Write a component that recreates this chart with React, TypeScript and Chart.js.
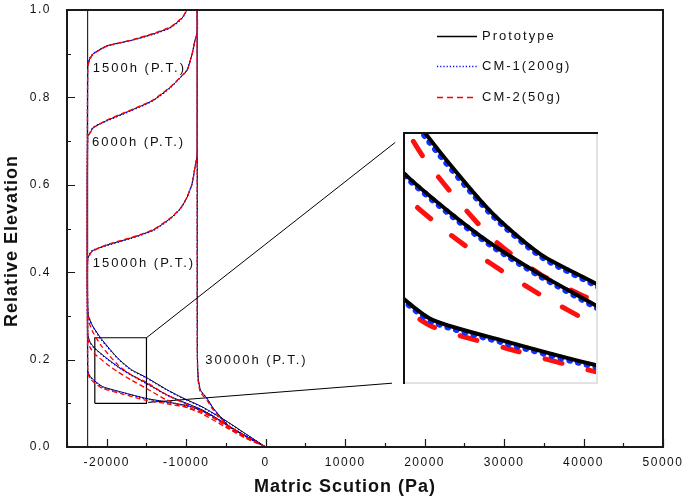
import React, { useEffect, useRef } from 'react';
import { Chart, registerables } from 'chart.js';

Chart.register(...registerables);

// ---------- data ----------
const seriesNames = ['Prototype', 'CM-1(200g)', 'CM-2(50g)'];
const timeLabels = ['1500h (P.T.)', '6000h (P.T.)', '15000h (P.T.)', '30000h (P.T.)'];
const labelSuction = [-21750, -21850, -21750, -7600];
const labelElev = [0.867, 0.697, 0.42, 0.199];

const suction1500 = [0, -2000, -4400, -7000, -9500, -12400, -15000, -18000, -20500, -21500, -22100, -22400, -22400, -22100, -21700, -20000, -17000, -14200, -12000, -10500, -9900];
const elevProto1500 = [0, 0.02, 0.045, 0.075, 0.093, 0.103, 0.111, 0.125, 0.138, 0.151, 0.162, 0.175, 0.87, 0.89, 0.9, 0.918, 0.93, 0.945, 0.96, 0.982, 1.0];
const elevCm1_1500 = [0, 0.019, 0.044, 0.074, 0.092, 0.102, 0.11, 0.124, 0.137, 0.15, 0.161, 0.174, 0.872, 0.891, 0.9, 0.917, 0.93, 0.944, 0.959, 0.981, 1.0];
const elevCm2_1500 = [0, 0.017, 0.041, 0.071, 0.089, 0.099, 0.107, 0.121, 0.134, 0.146, 0.157, 0.17, 0.868, 0.888, 0.899, 0.917, 0.931, 0.946, 0.961, 0.983, 1.0];

const suction6000 = [0, -2500, -5000, -8000, -10500, -12500, -15000, -17000, -18600, -20000, -21500, -22100, -22400, -22400, -22000, -21700, -20000, -17000, -14200, -12000, -10700, -9900, -9250, -8900, -8600, -8600];
const elevProto6000 = [0, 0.025, 0.052, 0.085, 0.104, 0.12, 0.146, 0.166, 0.184, 0.203, 0.226, 0.24, 0.26, 0.71, 0.722, 0.731, 0.747, 0.77, 0.793, 0.823, 0.846, 0.862, 0.9, 0.93, 0.95, 1.0];
const elevCm1_6000 = [0, 0.024, 0.051, 0.084, 0.103, 0.119, 0.145, 0.165, 0.183, 0.202, 0.225, 0.239, 0.259, 0.712, 0.723, 0.732, 0.746, 0.769, 0.792, 0.822, 0.846, 0.863, 0.9, 0.93, 0.95, 1.0];
const elevCm2_6000 = [0, 0.02, 0.045, 0.076, 0.094, 0.108, 0.134, 0.154, 0.172, 0.19, 0.213, 0.228, 0.25, 0.708, 0.721, 0.73, 0.748, 0.771, 0.794, 0.824, 0.847, 0.861, 0.9, 0.93, 0.95, 1.0];

const suction15000 = [0, -2500, -5000, -8000, -10500, -12500, -15000, -16900, -18600, -20700, -21800, -22300, -22400, -22400, -22000, -21700, -20000, -17000, -14200, -12000, -10700, -9900, -9250, -8900, -8650, -8600, -8600];
const elevProto15000 = [0, 0.03, 0.06, 0.092, 0.113, 0.132, 0.159, 0.177, 0.203, 0.248, 0.278, 0.3, 0.32, 0.43, 0.445, 0.45, 0.462, 0.478, 0.496, 0.523, 0.546, 0.571, 0.603, 0.64, 0.663, 0.68, 1.0];
const elevCm1_15000 = [0, 0.029, 0.059, 0.091, 0.112, 0.131, 0.158, 0.176, 0.202, 0.246, 0.277, 0.299, 0.32, 0.432, 0.446, 0.451, 0.461, 0.477, 0.495, 0.522, 0.546, 0.571, 0.604, 0.64, 0.664, 0.68, 1.0];
const elevCm2_15000 = [0, 0.024, 0.052, 0.082, 0.102, 0.12, 0.148, 0.165, 0.188, 0.232, 0.265, 0.29, 0.312, 0.428, 0.444, 0.449, 0.463, 0.479, 0.497, 0.524, 0.547, 0.572, 0.602, 0.64, 0.662, 0.68, 1.0];

const suction30000 = [0, -2200, -4500, -6600, -7400, -8200, -8500, -8600, -8600];
const elevProto30000 = [0, 0.022, 0.046, 0.089, 0.112, 0.13, 0.16, 0.22, 1.0];
const elevCm1_30000 = [0, 0.022, 0.046, 0.088, 0.111, 0.129, 0.158, 0.22, 1.0];
const elevCm2_30000 = [0, 0.02, 0.043, 0.085, 0.107, 0.125, 0.152, 0.215, 1.0];

const initSuction = [-22400, -22400];
const initElev = [0, 1];

// zoom window and its connector lines
const zoomSuction = [-21500, -15000];
const zoomElev = [0.1, 0.25];
const connTopSuction = [-15000, 16300];
const connTopElev = [0.25, 0.697];
const connBotSuction = [-14800, 15900];
const connBotElev = [0.102, 0.146];

// ---------- helpers ----------
const pts = (xs: number[], ys: number[]) => xs.map((x, i) => ({ x, y: ys[i] }));

const curves = [
  { s: suction1500, e: [elevProto1500, elevCm1_1500, elevCm2_1500] },
  { s: suction6000, e: [elevProto6000, elevCm1_6000, elevCm2_6000] },
  { s: suction15000, e: [elevProto15000, elevCm1_15000, elevCm2_15000] },
  { s: suction30000, e: [elevProto30000, elevCm1_30000, elevCm2_30000] },
];

const FONT = "'Liberation Sans', Arial, sans-serif";

const mainStyles = [
  { borderColor: '#000000', borderWidth: 1, borderDash: [] as number[], order: 2 },
  { borderColor: '#0000ff', borderWidth: 1.3, borderDash: [1.5, 2], order: 1 },
  { borderColor: '#ff0000', borderWidth: 1.3, borderDash: [5, 3], order: 0 },
];
const insetStyles = [
  { borderColor: '#000000', borderWidth: 4, borderDash: [] as number[], order: 0, borderCapStyle: 'round' },
  { borderColor: '#1030ff', borderWidth: 6.5, borderDash: [0.5, 8.5], order: 1, borderCapStyle: 'round' },
  { borderColor: '#ff1010', borderWidth: 5, borderDash: [17, 27], order: 2, borderCapStyle: 'round' },
];
const legendDash = [[], [1.2, 2], [6, 4]];
const legendColor = ['#000000', '#0000ff', '#ff0000'];

function curveDatasets(styles: any[], tension: number) {
  const out: any[] = [];
  curves.forEach((c, ci) => {
    c.e.forEach((elev, si) => {
      out.push({
        label: seriesNames[si] + ' ' + timeLabels[ci],
        data: pts(c.s, elev),
        showLine: true,
        pointRadius: 0,
        tension,
        ...styles[si],
      });
    });
  });
  return out;
}

const mainDecor = {
  id: 'mainDecor',
  beforeDraw(chart: any) {
    chart.ctx.letterSpacing = '1.5px';
  },
  afterDraw(chart: any) {
    const { ctx, chartArea: a, scales } = chart;
    const x = scales.x;
    const y = scales.y;
    ctx.save();
    ctx.letterSpacing = '0px';
    ctx.setLineDash([]);
    // frame
    ctx.strokeStyle = '#1a1a1a';
    ctx.lineWidth = 2;
    ctx.strokeRect(a.left, a.top, a.right - a.left, a.bottom - a.top);
    // inward ticks
    ctx.lineWidth = 1.2;
    ctx.beginPath();
    x.ticks.forEach((t: any) => {
      const px = Math.round(x.getPixelForValue(t.value)) + 0.5;
      const len = t.value % 10000 === 0 ? 8 : 4;
      ctx.moveTo(px, a.bottom);
      ctx.lineTo(px, a.bottom - len);
    });
    y.ticks.forEach((t: any) => {
      const py = Math.round(y.getPixelForValue(t.value)) + 0.5;
      const len = Math.round(t.value * 10) % 2 === 0 ? 8 : 4;
      ctx.moveTo(a.left, py);
      ctx.lineTo(a.left + len, py);
    });
    ctx.stroke();

    // legend
    const rows = [36, 66, 97];
    seriesNames.forEach((name, i) => {
      ctx.save();
      ctx.beginPath();
      ctx.strokeStyle = legendColor[i];
      ctx.lineWidth = 1.5;
      ctx.setLineDash(legendDash[i]);
      ctx.moveTo(437, rows[i] + 0.5);
      ctx.lineTo(477, rows[i] + 0.5);
      ctx.stroke();
      ctx.restore();
      ctx.fillStyle = '#111';
      ctx.font = `13px ${FONT}`;
      ctx.letterSpacing = '2px';
      ctx.textAlign = 'left';
      ctx.textBaseline = 'middle';
      ctx.fillText(name, 482, rows[i]);
    });

    // time annotations
    ctx.font = `13px ${FONT}`;
    ctx.letterSpacing = '2px';
    ctx.fillStyle = '#111';
    ctx.textAlign = 'left';
    ctx.textBaseline = 'middle';
    timeLabels.forEach((t, i) => {
      ctx.fillText(t, x.getPixelForValue(labelSuction[i]), y.getPixelForValue(labelElev[i]));
    });

    // axis titles
    ctx.font = `bold 18px ${FONT}`;
    ctx.letterSpacing = '1px';
    ctx.textAlign = 'center';
    ctx.textBaseline = 'middle';
    ctx.fillText('Matric Scution (Pa)', 345, 487);
    ctx.save();
    ctx.translate(12, 241);
    ctx.rotate(-Math.PI / 2);
    ctx.fillText('Relative Elevation', 0, 0);
    ctx.restore();

    ctx.restore();
  },
};

const insetDecor = {
  id: 'insetDecor',
  afterDraw(chart: any) {
    const { ctx, width, height } = chart;
    ctx.save();
    ctx.setLineDash([]);
    ctx.lineWidth = 2;
    ctx.strokeStyle = '#e2e2e2';
    ctx.beginPath();
    ctx.moveTo(width - 1, 0);
    ctx.lineTo(width - 1, height - 1);
    ctx.lineTo(0, height - 1);
    ctx.stroke();
    ctx.strokeStyle = '#111';
    ctx.beginPath();
    ctx.moveTo(1, height);
    ctx.lineTo(1, 1);
    ctx.lineTo(width, 1);
    ctx.stroke();
    ctx.restore();
  },
};

export default function App() {
  const mainRef = useRef<HTMLCanvasElement>(null);
  const insetRef = useRef<HTMLCanvasElement>(null);

  useEffect(() => {
    const tickFont = { family: FONT, size: 12 };
    const main = new Chart(mainRef.current as HTMLCanvasElement, {
      type: 'scatter',
      data: {
        datasets: [
          ...curveDatasets(mainStyles, 0.2),
          { label: 'initial', data: pts(initSuction, initElev), showLine: true, pointRadius: 0, borderColor: '#000', borderWidth: 1, order: 3 },
          {
            label: 'zoom box',
            data: pts([zoomSuction[0], zoomSuction[1], zoomSuction[1], zoomSuction[0], zoomSuction[0]], [zoomElev[0], zoomElev[0], zoomElev[1], zoomElev[1], zoomElev[0]]),
            showLine: true, pointRadius: 0, borderColor: '#000', borderWidth: 1.2, order: 3,
          },
          { label: 'conn top', data: pts(connTopSuction, connTopElev), showLine: true, pointRadius: 0, borderColor: '#000', borderWidth: 1, order: 3 },
          { label: 'conn bottom', data: pts(connBotSuction, connBotElev), showLine: true, pointRadius: 0, borderColor: '#000', borderWidth: 1, order: 3 },
        ],
      },
      options: {
        responsive: false,
        animation: false,
        devicePixelRatio: 1,
        events: [],
        layout: { padding: { top: 10, right: 22, left: 0, bottom: 0 } },
        plugins: { legend: { display: false }, tooltip: { enabled: false } },
        scales: {
          x: {
            type: 'linear',
            min: -25000,
            max: 50000,
            grid: { display: false, drawTicks: false },
            border: { display: false },
            ticks: {
              stepSize: 5000,
              autoSkip: false,
              maxRotation: 0,
              padding: 8,
              color: '#111',
              font: tickFont,
              callback: (v: any) => (Number(v) % 10000 === 0 ? String(Number(v)) : ''),
            },
            afterFit: (s: any) => { s.height = 54; s.paddingLeft = 0; s.paddingRight = 0; },
          },
          y: {
            type: 'linear',
            min: 0,
            max: 1,
            grid: { display: false, drawTicks: false },
            border: { display: false },
            ticks: {
              stepSize: 0.1,
              autoSkip: false,
              padding: 16,
              color: '#111',
              font: tickFont,
              callback: (v: any) => {
                const n = Math.round(Number(v) * 10);
                return n % 2 === 0 ? (n / 10).toFixed(1) : '';
              },
            },
            afterFit: (s: any) => { s.width = 67; s.paddingTop = 0; s.paddingBottom = 0; },
          },
        },
      } as any,
      plugins: [mainDecor],
    });

    const inset = new Chart(insetRef.current as HTMLCanvasElement, {
      type: 'scatter',
      data: { datasets: curveDatasets(insetStyles, 0.25) },
      options: {
        responsive: false,
        animation: false,
        devicePixelRatio: 1,
        events: [],
        layout: { padding: 0 },
        plugins: { legend: { display: false }, tooltip: { enabled: false } },
        scales: {
          x: { type: 'linear', min: zoomSuction[0], max: zoomSuction[1], display: false },
          y: { type: 'linear', min: zoomElev[0], max: zoomElev[1], display: false },
        },
      } as any,
      plugins: [insetDecor],
    });

    return () => {
      main.destroy();
      inset.destroy();
    };
  }, []);

  return (
    <div style={{ position: 'absolute', left: 0, top: 0, width: 685, height: 501, background: '#fff' }}>
      <canvas ref={mainRef} width={685} height={501} style={{ position: 'absolute', left: 0, top: 0, width: 685, height: 501 }} />
      <canvas ref={insetRef} width={195} height={252} style={{ position: 'absolute', left: 403, top: 132, width: 195, height: 252, background: '#fff' }} />
    </div>
  );
}
